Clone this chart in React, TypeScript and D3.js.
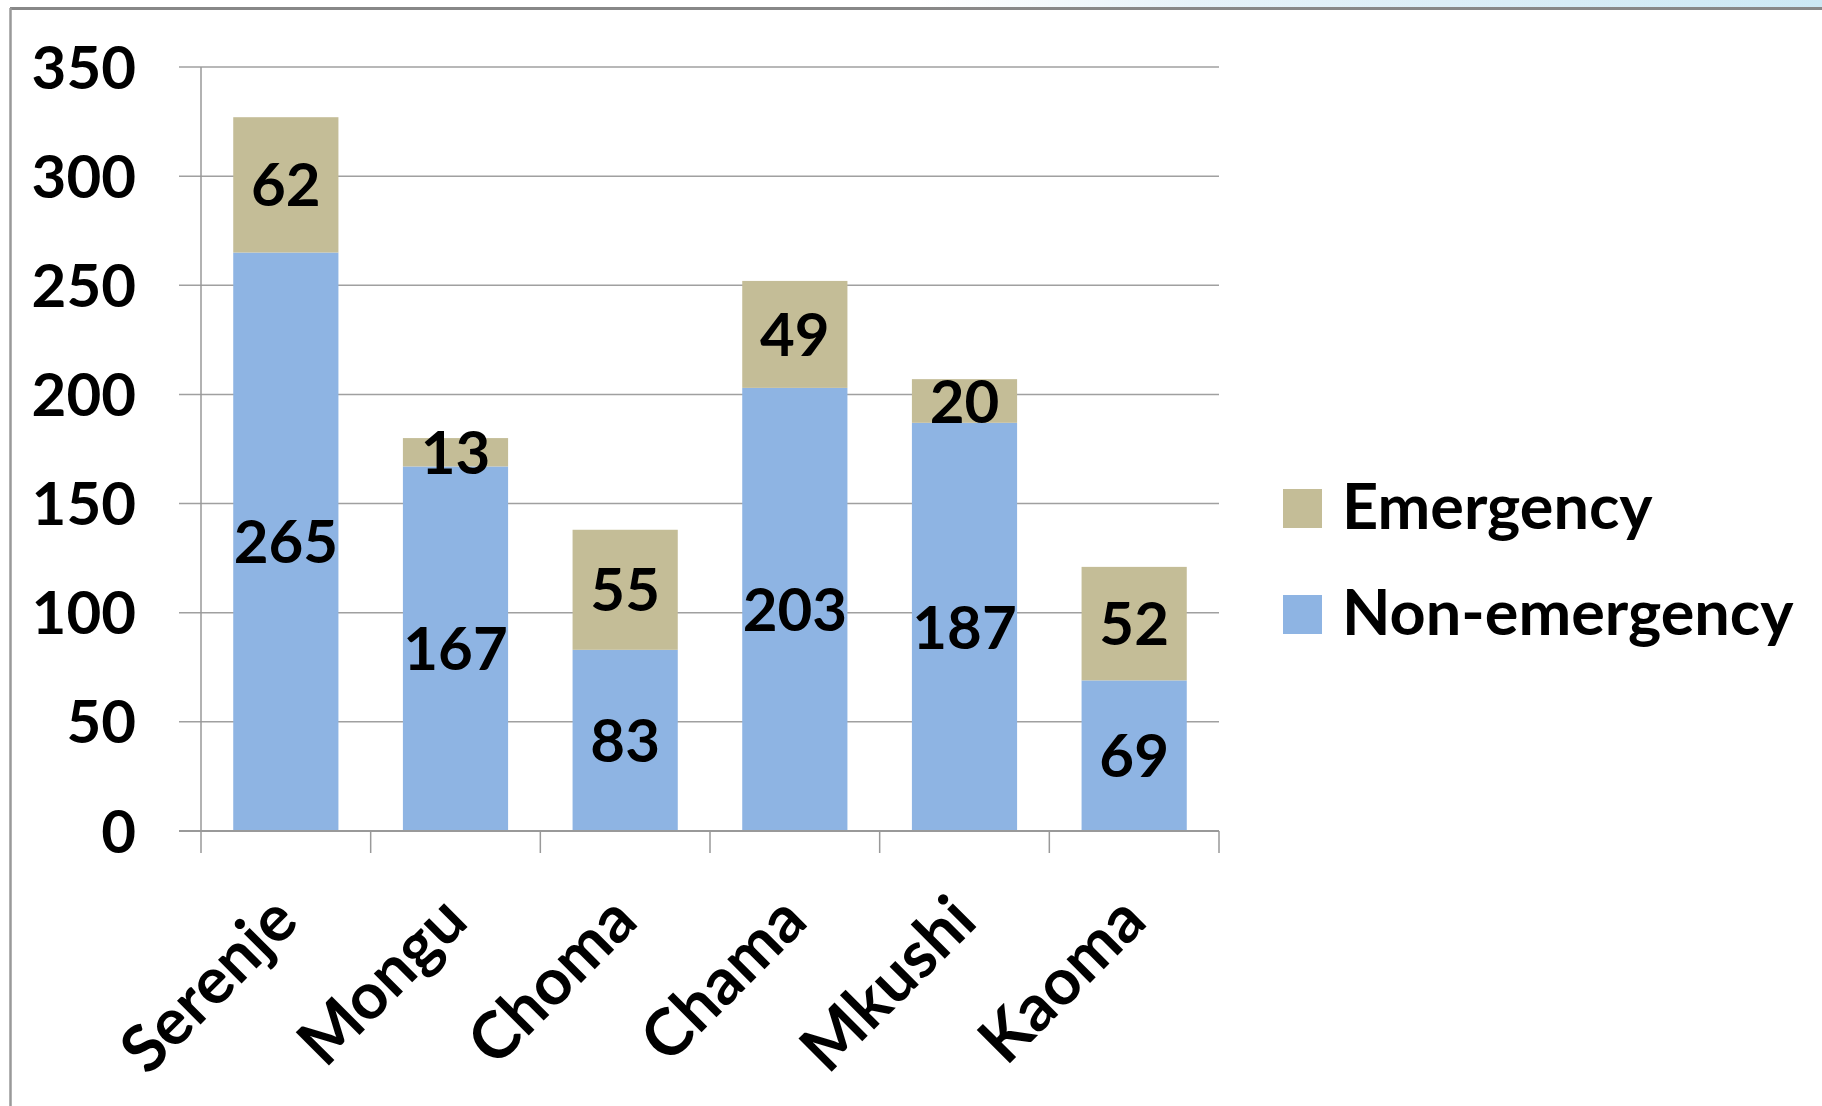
import React from "react";
import * as d3 from "d3";

const categories = ["Serenje", "Mongu", "Choma", "Chama", "Mkushi", "Kaoma"];
const nonEmergency = [265, 167, 83, 203, 187, 69];
const emergency = [62, 13, 55, 49, 20, 52];
const yTicks = [0, 50, 100, 150, 200, 250, 300, 350];
const seriesNames = ["Emergency", "Non-emergency"];
const seriesColors = ["#C4BD97", "#8EB4E3"];

const W = 1822;
const H = 1106;
const FONT = "Lato, 'Open Sans', sans-serif";

export default function App() {
  const x = d3.scaleBand<string>().domain(categories).range([201, 1219]).padding(0);
  const y = d3.scaleLinear().domain([0, 350]).range([831, 67]);
  const barW = x.bandwidth() * 0.62;
  const fs = 60;
  const catFs = 65;
  const legFs = 63;

  const stackData = categories.map((c, i) => ({ c, ne: nonEmergency[i], e: emergency[i] }));
  const stack = d3.stack<any>().keys(["ne", "e"])(stackData);
  const colorFor = (k: string) => (k === "e" ? seriesColors[0] : seriesColors[1]);

  return (
    <svg
      width={W}
      height={H}
      style={{ position: "absolute", left: 0, top: 0, background: "#fff" }}
    >
      <defs>
        <linearGradient id="topg" x1="0" x2="1" y1="0" y2="0">
          <stop offset="0" stopColor="#ffffff" />
          <stop offset="0.3" stopColor="#e6f2f9" />
          <stop offset="1" stopColor="#cce8f4" />
        </linearGradient>
      </defs>
      <rect x={0} y={0} width={W} height={H} fill="#fff" />
      <rect x={920} y={0} width={W - 920} height={8} fill="url(#topg)" />
      {/* frame */}
      <line x1={10} x2={W} y1={8.5} y2={8.5} stroke="#888" strokeWidth={3} />
      <line x1={10.5} x2={10.5} y1={8} y2={H} stroke="#999" strokeWidth={2.5} />

      {/* gridlines */}
      {yTicks.map((t) => (
        <line key={"g" + t} x1={179} x2={1219} y1={y(t)} y2={y(t)} stroke="#a0a0a0" strokeWidth={1.5} />
      ))}
      {/* y axis */}
      <line x1={201} x2={201} y1={y(350)} y2={y(0) + 22} stroke="#999" strokeWidth={1.5} />
      {/* category ticks */}
      {categories.map((c) => (
        <line key={"t" + c} x1={(x(c) as number) + x.bandwidth()} x2={(x(c) as number) + x.bandwidth()} y1={y(0)} y2={y(0) + 22} stroke="#999" strokeWidth={1.5} />
      ))}

      {/* bars */}
      {stack.map((s) =>
        s.map((d: any, i: number) => {
          const cx = (x(categories[i]) as number) + x.bandwidth() / 2;
          return (
            <rect
              key={s.key + i}
              x={cx - barW / 2}
              y={y(d[1])}
              width={barW}
              height={y(d[0]) - y(d[1])}
              fill={colorFor(s.key)}
            />
          );
        })
      )}
      {/* axis line over bars */}
      <line x1={179} x2={1219} y1={y(0)} y2={y(0)} stroke="#999" strokeWidth={2} />

      {/* data labels */}
      {stack.map((s) =>
        s.map((d: any, i: number) => {
          const cx = (x(categories[i]) as number) + x.bandwidth() / 2;
          const cy = (y(d[0]) + y(d[1])) / 2;
          return (
            <text
              key={"l" + s.key + i}
              x={cx}
              y={cy + fs * 0.36}
              textAnchor="middle"
              fontFamily={FONT}
              fontWeight="bold"
              fontSize={fs}
              fill="#000"
            >
              {d[1] - d[0]}
            </text>
          );
        })
      )}

      {/* y tick labels */}
      {yTicks.map((t) => (
        <text
          key={"y" + t}
          x={136}
          y={y(t) + fs * 0.36}
          textAnchor="end"
          fontFamily={FONT}
          fontWeight="bold"
          fontSize={fs}
          fill="#000"
        >
          {t}
        </text>
      ))}

      {/* category labels */}
      {categories.map((c) => {
        const cx = (x(c) as number) + x.bandwidth() / 2;
        const tx = cx + 15;
        const ty = y(0) + 93;
        return (
          <text
            key={"c" + c}
            transform={`translate(${tx},${ty}) rotate(-45)`}
            textAnchor="end"
            fontFamily={FONT}
            fontWeight="bold"
            fontSize={catFs}
            fill="#000"
          >
            {c}
          </text>
        );
      })}

      {/* legend */}
      {seriesNames.map((n, i) => (
        <g key={"lg" + n} transform={`translate(1283, ${489 + i * 106})`}>
          <rect x={0} y={0} width={39} height={39} fill={seriesColors[i]} />
          <text x={59} y={40} fontFamily={FONT} fontWeight="bold" fontSize={legFs} fill="#000">
            {n}
          </text>
        </g>
      ))}
    </svg>
  );
}
